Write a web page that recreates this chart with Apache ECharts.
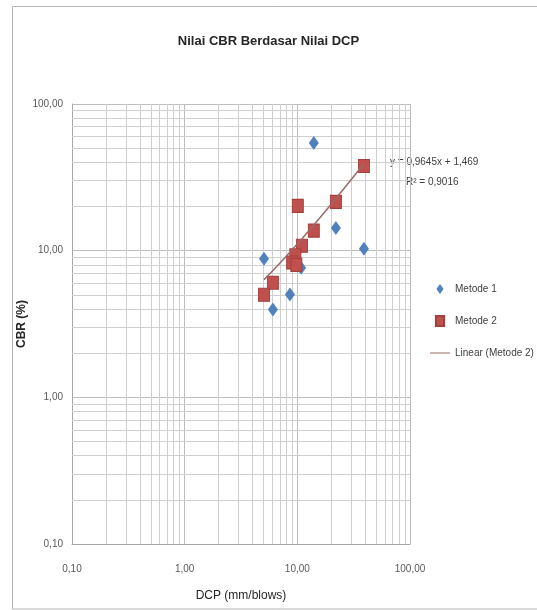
<!DOCTYPE html>
<html>
<head>
<meta charset="utf-8">
<script src="https://cdn.jsdelivr.net/npm/echarts@6/dist/echarts.min.js"></script>
<style>
html,body{margin:0;padding:0;background:#fff;}
#chart{width:537px;height:610px;}
</style>
</head>
<body>
<div id="chart"></div>
<script>
// DCP (mm/blows) vs CBR (%)
var metode1X = [14.0, 22.0, 39.0, 5.06, 10.8, 8.6, 6.07];
var metode1Y = [54.3, 14.3, 10.3, 8.8, 7.66, 5.03, 3.97];
var metode2X = [39.0, 22.0, 10.1, 14.0, 11.0, 9.6, 9.0, 9.8, 6.07, 5.06];
var metode2Y = [37.8, 21.5, 20.2, 13.7, 10.8, 9.3, 8.3, 8.0, 6.05, 5.0];
var trendSlope = 0.9645;
var trendIntercept = 1.469;
var trendLabel = 'y = 0,9645x + 1,469';
var r2Label = 'R\u00b2 = 0,9016';
var minorTicks = [0.2,0.3,0.4,0.5,0.6,0.7,0.8,0.9,2,3,4,5,6,7,8,9,20,30,40,50,60,70,80,90];
var titleText = 'Nilai CBR Berdasar Nilai DCP';
var xName = 'DCP (mm/blows)';
var yName = 'CBR (%)';
var legendNames = ['Metode 1', 'Metode 2', 'Linear (Metode 2)'];

function pairs(xs, ys){ return xs.map(function(x,i){ return [x, ys[i]]; }); }
var trendXs = metode2X.slice().sort(function(a,b){return a-b;});
var trendData = trendXs.map(function(x){ return [x, trendSlope*x + trendIntercept]; });
function fmt(v){ return Number(v).toFixed(2).replace('.', ','); }

var FONT = '"Liberation Sans", Arial, sans-serif';
var gridColor = '#cfcfcf';

var chart = echarts.init(document.getElementById('chart'));
chart.setOption({
  backgroundColor: '#fff',
  animation: false,
  title: {
    text: titleText, left: 'center', top: 30,
    textStyle: {fontFamily: FONT, fontSize: 13, fontWeight: 'bold', color: '#262626'}
  },
  graphic: [
    {type: 'rect', shape: {x: 12.5, y: 6.5, width: 540, height: 602.5}, style: {fill: 'none', stroke: '#b5b5b5', lineWidth: 1}, z: -10},
    {type: 'text', left: 390, top: 157, style: {text: trendLabel, font: '10px ' + FONT, fill: '#404040'}},
    {type: 'text', left: 406, top: 177, style: {text: r2Label, font: '10px ' + FONT, fill: '#404040'}}
  ],
  legend: {
    orient: 'vertical', left: 425, top: 279, itemGap: 21, itemWidth: 20, itemHeight: 10,
    textStyle: {fontFamily: FONT, fontSize: 10, color: '#404040'},
    data: [
      {name: legendNames[0], icon: 'path://M5,0L10,7L5,14L0,7Z'},
      {name: legendNames[1], icon: 'path://M0,0H9V11H0Z'},
      {name: legendNames[2], icon: 'path://M0,0H20V1H0Z'}
    ]
  },
  grid: {left: 72, top: 104, right: 127, bottom: 66, containLabel: false, outerBoundsMode: 'none'},
  xAxis: {
    type: 'log', logBase: 10, min: 0.1, max: 100,
    name: xName, nameLocation: 'middle', nameGap: 46, nameMoveOverlap: false,
    nameTextStyle: {fontFamily: FONT, fontSize: 12, color: '#262626'},
    axisLine: {show: true, lineStyle: {color: '#a6a6a6'}},
    axisTick: {show: false},
    axisLabel: {formatter: fmt, margin: 20, fontFamily: FONT, fontSize: 10, color: '#595959'},
    splitLine: {show: true, lineStyle: {color: '#bdbdbd', width: 1}}
  },
  yAxis: {
    type: 'log', logBase: 10, min: 0.1, max: 100,
    name: yName, nameLocation: 'middle', nameGap: 44, nameMoveOverlap: false,
    nameTextStyle: {fontFamily: FONT, fontSize: 12, fontWeight: 'bold', color: '#262626'},
    axisLine: {show: true, lineStyle: {color: '#a6a6a6'}},
    axisTick: {show: false},
    axisLabel: {formatter: fmt, margin: 9, fontFamily: FONT, fontSize: 10, color: '#595959'},
    splitLine: {show: true, lineStyle: {color: '#bdbdbd', width: 1}}
  },
  series: [
    {
      name: 'grid', type: 'line', data: [], silent: true, z: 1,
      markLine: {
        silent: true, z: 1, symbol: ['none','none'], animation: false,
        label: {show: false},
        lineStyle: {color: gridColor, type: 'solid', width: 1},
        emphasis: {disabled: true},
        data: minorTicks.map(function(v){ return {xAxis: v}; })
          .concat(minorTicks.map(function(v){ return {yAxis: v}; }))
      }
    },
    {
      name: legendNames[0], type: 'scatter', symbol: 'diamond', symbolSize: [10, 14], z: 3,
      itemStyle: {color: '#4f81bd', opacity: 1},
      data: pairs(metode1X, metode1Y)
    },
    {
      name: legendNames[1], type: 'scatter', symbol: 'rect', symbolSize: [11, 13], z: 4,
      itemStyle: {color: '#c0504d', borderColor: '#a33f3c', borderWidth: 1, opacity: 1},
      data: pairs(metode2X, metode2Y)
    },
    {
      name: legendNames[2], type: 'line', showSymbol: false, symbol: 'none', smooth: true, z: 5,
      lineStyle: {color: '#9a6a68', width: 1.5},
      itemStyle: {color: '#9a6a68'},
      data: trendData
    }
  ]
});
</script>
</body>
</html>
